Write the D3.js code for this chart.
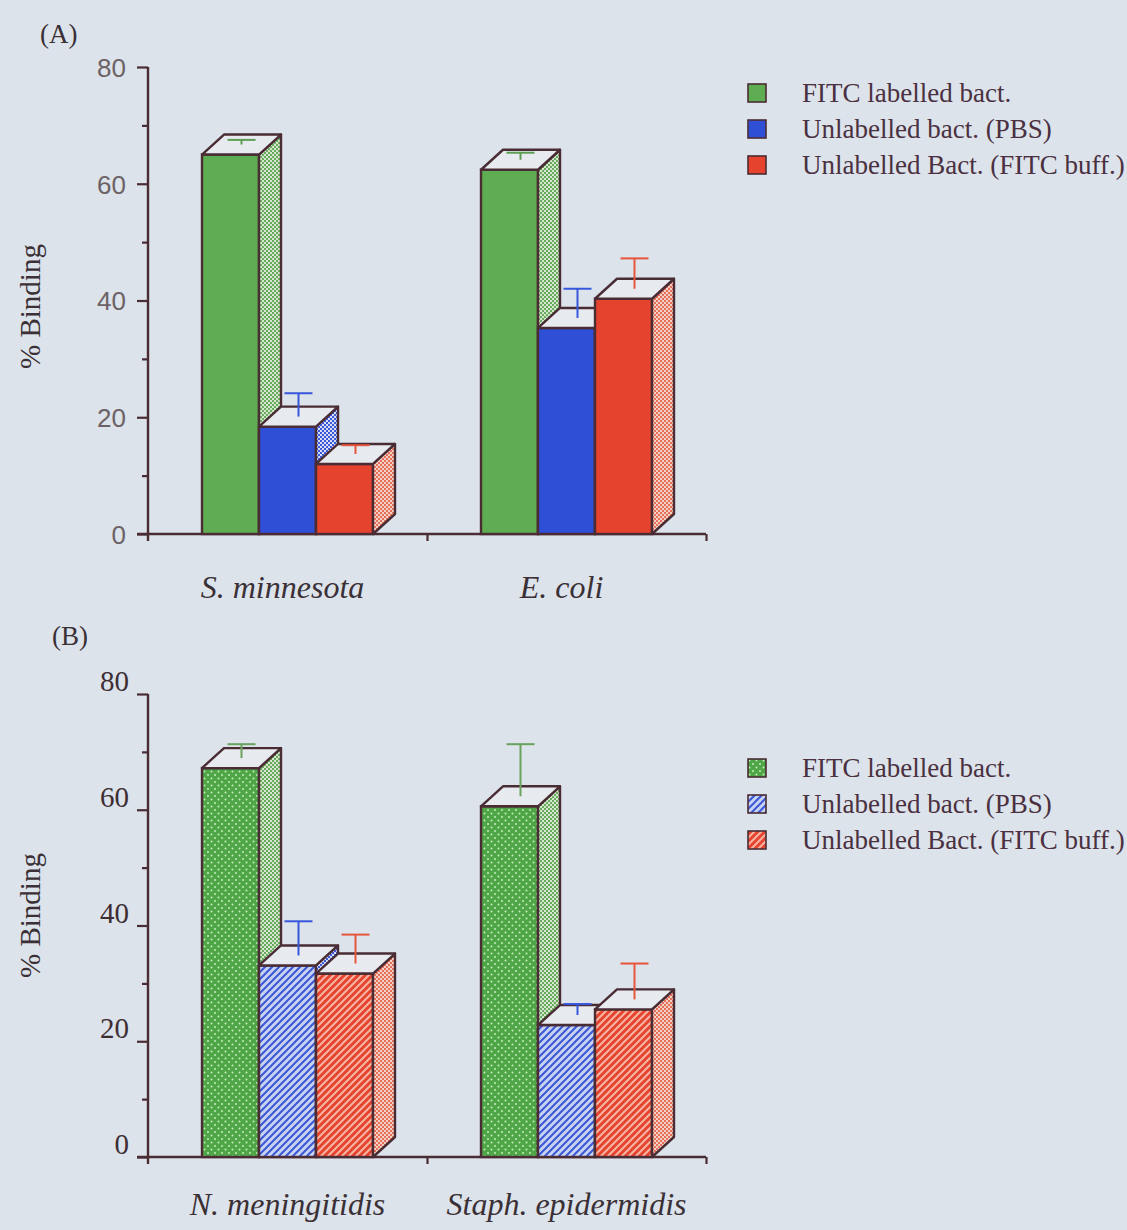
<!DOCTYPE html>
<html>
<head>
<meta charset="utf-8">
<script src="https://cdn.jsdelivr.net/npm/d3@7"></script>
<style>
  html, body { margin: 0; padding: 0; background: #dce3ea; }
  #chart { width: 1127px; height: 1230px; }
</style>
</head>
<body>
<div id="chart"></div>
<script>
// ---- data ----
const seriesNames = ['FITC labelled bact.', 'Unlabelled bact. (PBS)', 'Unlabelled Bact. (FITC buff.)'];

const categoriesA = ['S. minnesota', 'E. coli'];
const fitcA = [65.0, 62.4];
const pbsA = [18.4, 35.3];
const buffA = [12.0, 40.3];
const errFitcA = [0.8, 1.2];
const errPbsA = [4.0, 5.0];
const errBuffA = [1.5, 5.2];

const categoriesB = ['N. meningitidis', 'Staph. epidermidis'];
const fitcB = [67.2, 60.6];
const pbsB = [33.1, 22.8];
const buffB = [31.7, 25.5];
const errFitcB = [2.4, 9.0];
const errPbsB = [5.9, 1.9];
const errBuffB = [5.0, 6.2];

const yTicks = [0, 10, 20, 30, 40, 50, 60, 70, 80];

// ---- setup ----
const W = 1127, H = 1230;
const ink = '#4a2c34';
const serif = '"Liberation Serif", "Times New Roman", serif';
const sans = '"Liberation Sans", Arial, sans-serif';

const svg = d3.select('#chart')
  .append('svg')
  .attr('width', W)
  .attr('height', H)
  .attr('viewBox', '0 0 ' + W + ' ' + H);

svg.append('rect').attr('width', W).attr('height', H).attr('fill', '#dce3ea');

const defs = svg.append('defs');

function checker(id, base, dot) {
  const p = defs.append('pattern')
    .attr('id', id).attr('patternUnits', 'userSpaceOnUse')
    .attr('width', 4).attr('height', 4);
  p.append('rect').attr('width', 4).attr('height', 4).attr('fill', base);
  p.append('rect').attr('width', 2).attr('height', 2).attr('fill', dot);
  p.append('rect').attr('x', 2).attr('y', 2).attr('width', 2).attr('height', 2).attr('fill', dot);
}
function hatch(id, base, line) {
  const p = defs.append('pattern')
    .attr('id', id).attr('patternUnits', 'userSpaceOnUse')
    .attr('width', 7).attr('height', 7);
  p.append('rect').attr('width', 7).attr('height', 7).attr('fill', base);
  p.append('path')
    .attr('d', 'M-1,1 l2,-2 M0,7 l7,-7 M6,8 l2,-2')
    .attr('stroke', line).attr('stroke-width', 2);
}
function dots(id, base, dot) {
  const p = defs.append('pattern')
    .attr('id', id).attr('patternUnits', 'userSpaceOnUse')
    .attr('width', 7).attr('height', 7);
  p.append('rect').attr('width', 7).attr('height', 7).attr('fill', base);
  p.append('circle').attr('cx', 1.5).attr('cy', 1.5).attr('r', 1).attr('fill', dot);
  p.append('circle').attr('cx', 5).attr('cy', 5).attr('r', 1).attr('fill', dot);
}

checker('sideGreen', '#d4e6cc', '#6aaa5e');
checker('sideBlue', '#d6dcf6', '#3c5ad8');
checker('sideRed', '#f5d0c4', '#e2705a');
dots('dotGreen', '#4fa646', '#c4ecbc');
hatch('hatchBlue', '#c8d2f2', '#3a58d6');
hatch('hatchRed', '#e6442f', '#f6b4a2');

const styleA = [
  { front: '#5fad52', side: 'url(#sideGreen)', err: '#5e9e54' },
  { front: '#2f4fd6', side: 'url(#sideBlue)', err: '#3656dc' },
  { front: '#e6432f', side: 'url(#sideRed)', err: '#e6543c' }
];
const styleB = [
  { front: 'url(#dotGreen)', side: 'url(#sideGreen)', err: '#6aa25e' },
  { front: 'url(#hatchBlue)', side: 'url(#sideBlue)', err: '#3656dc' },
  { front: 'url(#hatchRed)', side: 'url(#sideRed)', err: '#e6543c' }
];

// ---- one panel ----
function drawPanel(cfg) {
  const g = svg.append('g');
  const x0 = 148, x1 = 706;
  const y = d3.scaleLinear().domain([0, 80]).range([cfg.bottom, cfg.top]);
  const xBand = d3.scaleBand().domain(cfg.categories).range([x0, x1]);
  const xBar = d3.scaleBand().domain(d3.range(3)).range([0, 171]);
  const bw = xBar.bandwidth();
  const dx = 22, dy = 20;

  // y axis
  const yAxis = d3.axisLeft(y)
    .tickValues(yTicks)
    .tickSize(11)
    .tickPadding(cfg.sansTicks ? 11 : 8)
    .tickFormat(d => d % 20 === 0 ? d : '');
  const ya = g.append('g')
    .attr('transform', 'translate(' + x0 + ',0)')
    .call(yAxis)
    .call(a => a.select('.domain').remove());
  ya.selectAll('.tick line')
    .attr('stroke', ink).attr('stroke-width', 2.2)
    .attr('x2', d => d % 20 === 0 ? -11 : -6);
  ya.selectAll('.tick text')
    .attr('fill', cfg.sansTicks ? '#6c6266' : '#3e2e34')
    .attr('font-family', cfg.sansTicks ? sans : serif)
    .attr('font-size', cfg.sansTicks ? 26 : 29)
    .attr('dy', cfg.sansTicks ? '0.36em' : '-0.12em');
  g.append('line')
    .attr('x1', x0).attr('x2', x0)
    .attr('y1', y(80)).attr('y2', y(0) + 7)
    .attr('stroke', ink).attr('stroke-width', 2.4);

  // x axis with boundary ticks
  const xLin = d3.scaleLinear().domain([0, cfg.categories.length]).range([x0, x1]);
  g.append('g')
    .attr('transform', 'translate(0,' + y(0) + ')')
    .call(d3.axisBottom(xLin).tickValues([1, 2]).tickSize(7).tickFormat(''))
    .call(a => a.select('.domain').remove())
    .call(a => a.selectAll('.tick line').attr('stroke', ink).attr('stroke-width', 2.2));
  g.append('line')
    .attr('x1', x0 - 11).attr('x2', x1)
    .attr('y1', y(0)).attr('y2', y(0))
    .attr('stroke', ink).attr('stroke-width', 2.4);

  // category labels
  g.selectAll('.cat')
    .data(cfg.categories)
    .enter()
    .append('text')
    .attr('class', 'cat')
    .attr('x', d => xBand(d) + xBand.bandwidth() / 2 + cfg.catShift)
    .attr('y', y(0) + cfg.catOffset)
    .attr('text-anchor', 'middle')
    .attr('font-family', serif)
    .attr('font-style', 'italic')
    .attr('font-size', 32)
    .attr('fill', '#3a3036')
    .text(d => d);

  // 3D bars, painted left to right
  cfg.categories.forEach((cat, ci) => {
    const start = xBand(cat) + (xBand.bandwidth() - 171) / 2;
    cfg.series.forEach((vals, si) => {
      const v = vals[ci];
      const e = cfg.errors[si][ci];
      const st = cfg.styles[si];
      const xl = start + xBar(si), xr = xl + bw;
      const yt = y(v), yb = y(0);
      const bar = g.append('g');
      bar.append('rect')
        .attr('x', xl).attr('y', yt).attr('width', bw).attr('height', yb - yt)
        .attr('fill', st.front).attr('stroke', ink).attr('stroke-width', 2.4);
      bar.append('path')
        .attr('d', 'M' + xr + ',' + yt + 'L' + (xr + dx) + ',' + (yt - dy) +
          'L' + (xr + dx) + ',' + (yb - dy) + 'L' + xr + ',' + yb + 'Z')
        .attr('fill', st.side).attr('stroke', ink).attr('stroke-width', 2.4)
        .attr('stroke-linejoin', 'round');
      bar.append('path')
        .attr('d', 'M' + xl + ',' + yt + 'L' + (xl + dx) + ',' + (yt - dy) +
          'L' + (xr + dx) + ',' + (yt - dy) + 'L' + xr + ',' + yt + 'Z')
        .attr('fill', '#e7ebef').attr('stroke', ink).attr('stroke-width', 2.4)
        .attr('stroke-linejoin', 'round');
      // error bar at mid depth of the top face
      const ex = (xl + xr) / 2 + dx / 2;
      const ey0 = yt - dy / 2, ey1 = y(v + e) - dy / 2;
      bar.append('line')
        .attr('x1', ex).attr('x2', ex).attr('y1', ey0).attr('y2', ey1)
        .attr('stroke', st.err).attr('stroke-width', 2);
      bar.append('line')
        .attr('x1', ex - 14).attr('x2', ex + 14).attr('y1', ey1).attr('y2', ey1)
        .attr('stroke', st.err).attr('stroke-width', 2);
    });
  });

  // y title and panel letter
  g.append('text')
    .attr('transform', 'translate(40,' + ((y(0) + y(80)) / 2 + cfg.titleShift) + ') rotate(-90)')
    .attr('text-anchor', 'middle')
    .attr('font-family', serif)
    .attr('font-size', 29)
    .attr('fill', '#3a3036')
    .text('% Binding');
  g.append('text')
    .attr('x', cfg.letterX).attr('y', cfg.letterY)
    .attr('font-family', serif)
    .attr('font-size', 27)
    .attr('fill', '#3a3036')
    .text(cfg.letter);

  // legend
  const leg = g.selectAll('.leg')
    .data(seriesNames)
    .enter()
    .append('g')
    .attr('transform', (d, i) => 'translate(748,' + (cfg.legendTop + i * 36) + ')');
  leg.append('rect')
    .attr('width', 18).attr('height', 18)
    .attr('fill', (d, i) => cfg.styles[i].front)
    .attr('stroke', ink).attr('stroke-width', 1.6);
  leg.append('text')
    .attr('x', 54).attr('y', 9)
    .attr('dy', '0.35em')
    .attr('font-family', serif)
    .attr('font-size', 27)
    .attr('fill', '#4a3040')
    .text(d => d);
}

drawPanel({
  top: 67, bottom: 534,
  categories: categoriesA,
  series: [fitcA, pbsA, buffA],
  errors: [errFitcA, errPbsA, errBuffA],
  styles: styleA,
  sansTicks: true,
  catOffset: 64,
  catShift: -5,
  titleShift: 6,
  letter: '(A)', letterX: 40, letterY: 43,
  legendTop: 84
});

drawPanel({
  top: 694, bottom: 1157,
  categories: categoriesB,
  series: [fitcB, pbsB, buffB],
  errors: [errFitcB, errPbsB, errBuffB],
  styles: styleB,
  sansTicks: false,
  catOffset: 58,
  catShift: 0,
  titleShift: -10,
  letter: '(B)', letterX: 52, letterY: 645,
  legendTop: 759
});
</script>
</body>
</html>
